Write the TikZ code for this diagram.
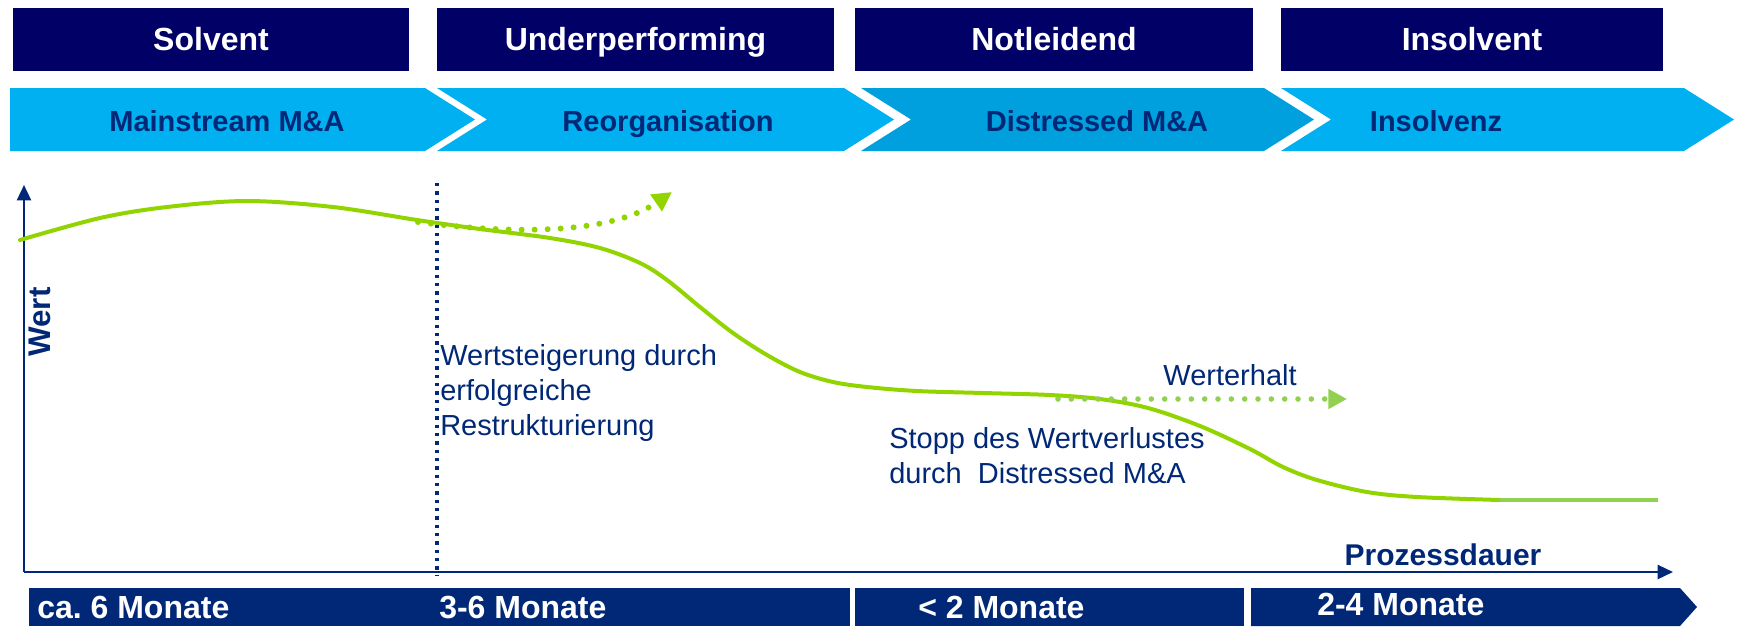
\documentclass[tikz,border=0pt]{standalone}
\usepackage{fontspec}
\setmainfont{Liberation Sans}
\usetikzlibrary{arrows.meta}
\frenchspacing

\definecolor{topnavy}{RGB}{0,0,102}
\definecolor{navy}{RGB}{0,40,118}
\definecolor{sky}{RGB}{0,176,240}
\definecolor{skydark}{RGB}{0,160,222}
\definecolor{lime}{RGB}{146,212,0}
\definecolor{limesoft}{RGB}{146,208,80}

\tikzset{
  phasebox/.style={fill=topnavy, text=white, inner sep=0pt,
    minimum height=47.25pt, text height=17.2pt, text depth=0pt,
    font=\fontsize{24}{28}\selectfont\bfseries},
  chevtext/.style={text=navy, anchor=base, inner sep=0pt,
    font=\fontsize{21.75}{26}\selectfont\bfseries},
  bartext/.style={text=white, anchor=base west, inner sep=0pt,
    font=\fontsize{24}{28}\selectfont\bfseries},
  note/.style={text=navy, anchor=base west, inner sep=0pt, align=left,
    font=\fontsize{21.75}{26.25}\selectfont},
  axislabel/.style={text=navy, inner sep=0pt,
    font=\fontsize{22.5}{27}\selectfont\bfseries},
  axisline/.style={draw=navy, line width=1.8pt,
    -{Triangle[length=11.5pt,width=10.5pt]}},
  valuecurve/.style={draw=lime, line width=3pt, line cap=round},
  dotarrow/.style={line width=4.5pt, line cap=round,
    dash pattern=on 0pt off 9.75pt,
    -{Triangle[length=14.5pt,width=14.5pt]}},
  divider/.style={draw=navy, line width=2.5pt, dash pattern=on 2.5pt off 3.75pt}
}

\begin{document}
\begin{tikzpicture}[x=0.75pt,y=-0.75pt]
\useasboundingbox (0,0) rectangle (1737,626);

% phase boxes
\node[phasebox, minimum width=297pt]   (solvent) at (211,39.5)    {Solvent};
\node[phasebox, minimum width=297.75pt] (under)  at (635.5,39.5)  {Underperforming};
\node[phasebox, minimum width=298.5pt] (notl)    at (1054,39.5)   {Notleidend};
\node[phasebox, minimum width=286.5pt] (insolv)  at (1472,39.5)   {Insolvent};

% process chevrons
\fill[sky] (10,88) -- (425,88) -- (475,119.5) -- (425,151) -- (10,151) -- cycle;
\fill[sky] (437,88) -- (844,88) -- (894,119.5) -- (844,151) -- (437,151) -- (487,119.5) -- cycle;
\fill[skydark] (861,88) -- (1264,88) -- (1314,119.5) -- (1264,151) -- (861,151) -- (911,119.5) -- cycle;
\fill[sky] (1281,88) -- (1684,88) -- (1734,119.5) -- (1684,151) -- (1281,151) -- (1331,119.5) -- cycle;

\node[chevtext] (mainstream) at (227,131)  {Mainstream M\&A};
\node[chevtext] (reorg)      at (668,131)  {Reorganisation};
\node[chevtext] (distressed) at (1097,131) {Distressed M\&A};
\node[chevtext] (insolvenz)  at (1436,131) {Insolvenz};

% duration bar
\fill[navy] (29,588) rectangle (850,626);
\fill[navy] (855,588) rectangle (1244,626);
\fill[navy] (1251,588) -- (1680,588) -- (1697,607) -- (1680,626) -- (1251,626) -- cycle;

\node[bartext] (d1) at (37,618)   {ca. 6 Monate};
\node[bartext] (d2) at (439,618)  {3-6 Monate};
\node[bartext] (d3) at (918,618)  {< 2 Monate};
\node[bartext] (d4) at (1317,615) {2-4 Monate};

% axes
\coordinate (origin) at (24,572);
\coordinate (ytip) at (24,185);
\coordinate (xtip) at (1673,572);
\draw[axisline] (origin) -- (ytip);
\draw[axisline] (origin) -- (xtip);
\node[axislabel, anchor=base] (xlabel) at (1443,565) {Prozessdauer};
\node[axislabel, rotate=90, font=\fontsize{23.5}{27}\selectfont\bfseries] (ylabel) at (40,322) {Wert};

% restructuring upside
\coordinate (upstart) at (418,222);
\coordinate (upend) at (672,192);
\draw[dotarrow, draw=lime] (upstart) .. controls (540,238) and (620,228) .. (upend);

% value curve
\draw[valuecurve] plot[smooth, tension=0.55] coordinates {
  (20,240) (100,218) (167,207) (247,201) (333,207) (417,220) (480,229)
  (550,238) (600,248) (640,263) (667,280) (700,307) (733,333) (767,355)
  (800,372) (833,382) (867,387) (917,391) (983,393) (1050,395) (1100,399)
  (1148,408) (1200,426) (1250,449) (1283,467) (1317,480) (1367,492)
  (1417,497) (1500,500)};
\draw[draw=limesoft, line width=3pt] (1500,500) -- (1658,500);

% value preservation
\coordinate (keepstart) at (1058,399);
\coordinate (keepend) at (1347,399);
\draw[dotarrow, draw=limesoft, line width=4.2pt,
  dash pattern=on 0pt off 10pt,
  -{Triangle[length=14pt,width=14.25pt]}] (keepstart) -- (keepend);

% divider
\coordinate (vtop) at (437,183);
\coordinate (vbot) at (437,576);
\draw[divider] (vtop) -- (vbot);

% annotations (base anchor sits on the last line)
\node[note] (restr) at (440,435) {Wertsteigerung durch\\erfolgreiche\\Restrukturierung};
\node[note] (stopp) at (889,483) {Stopp des Wertverlustes\\durch~ Distressed M\&A};
\node[note, anchor=base] (keep) at (1230,385) {Werterhalt};
\end{tikzpicture}
\end{document}
